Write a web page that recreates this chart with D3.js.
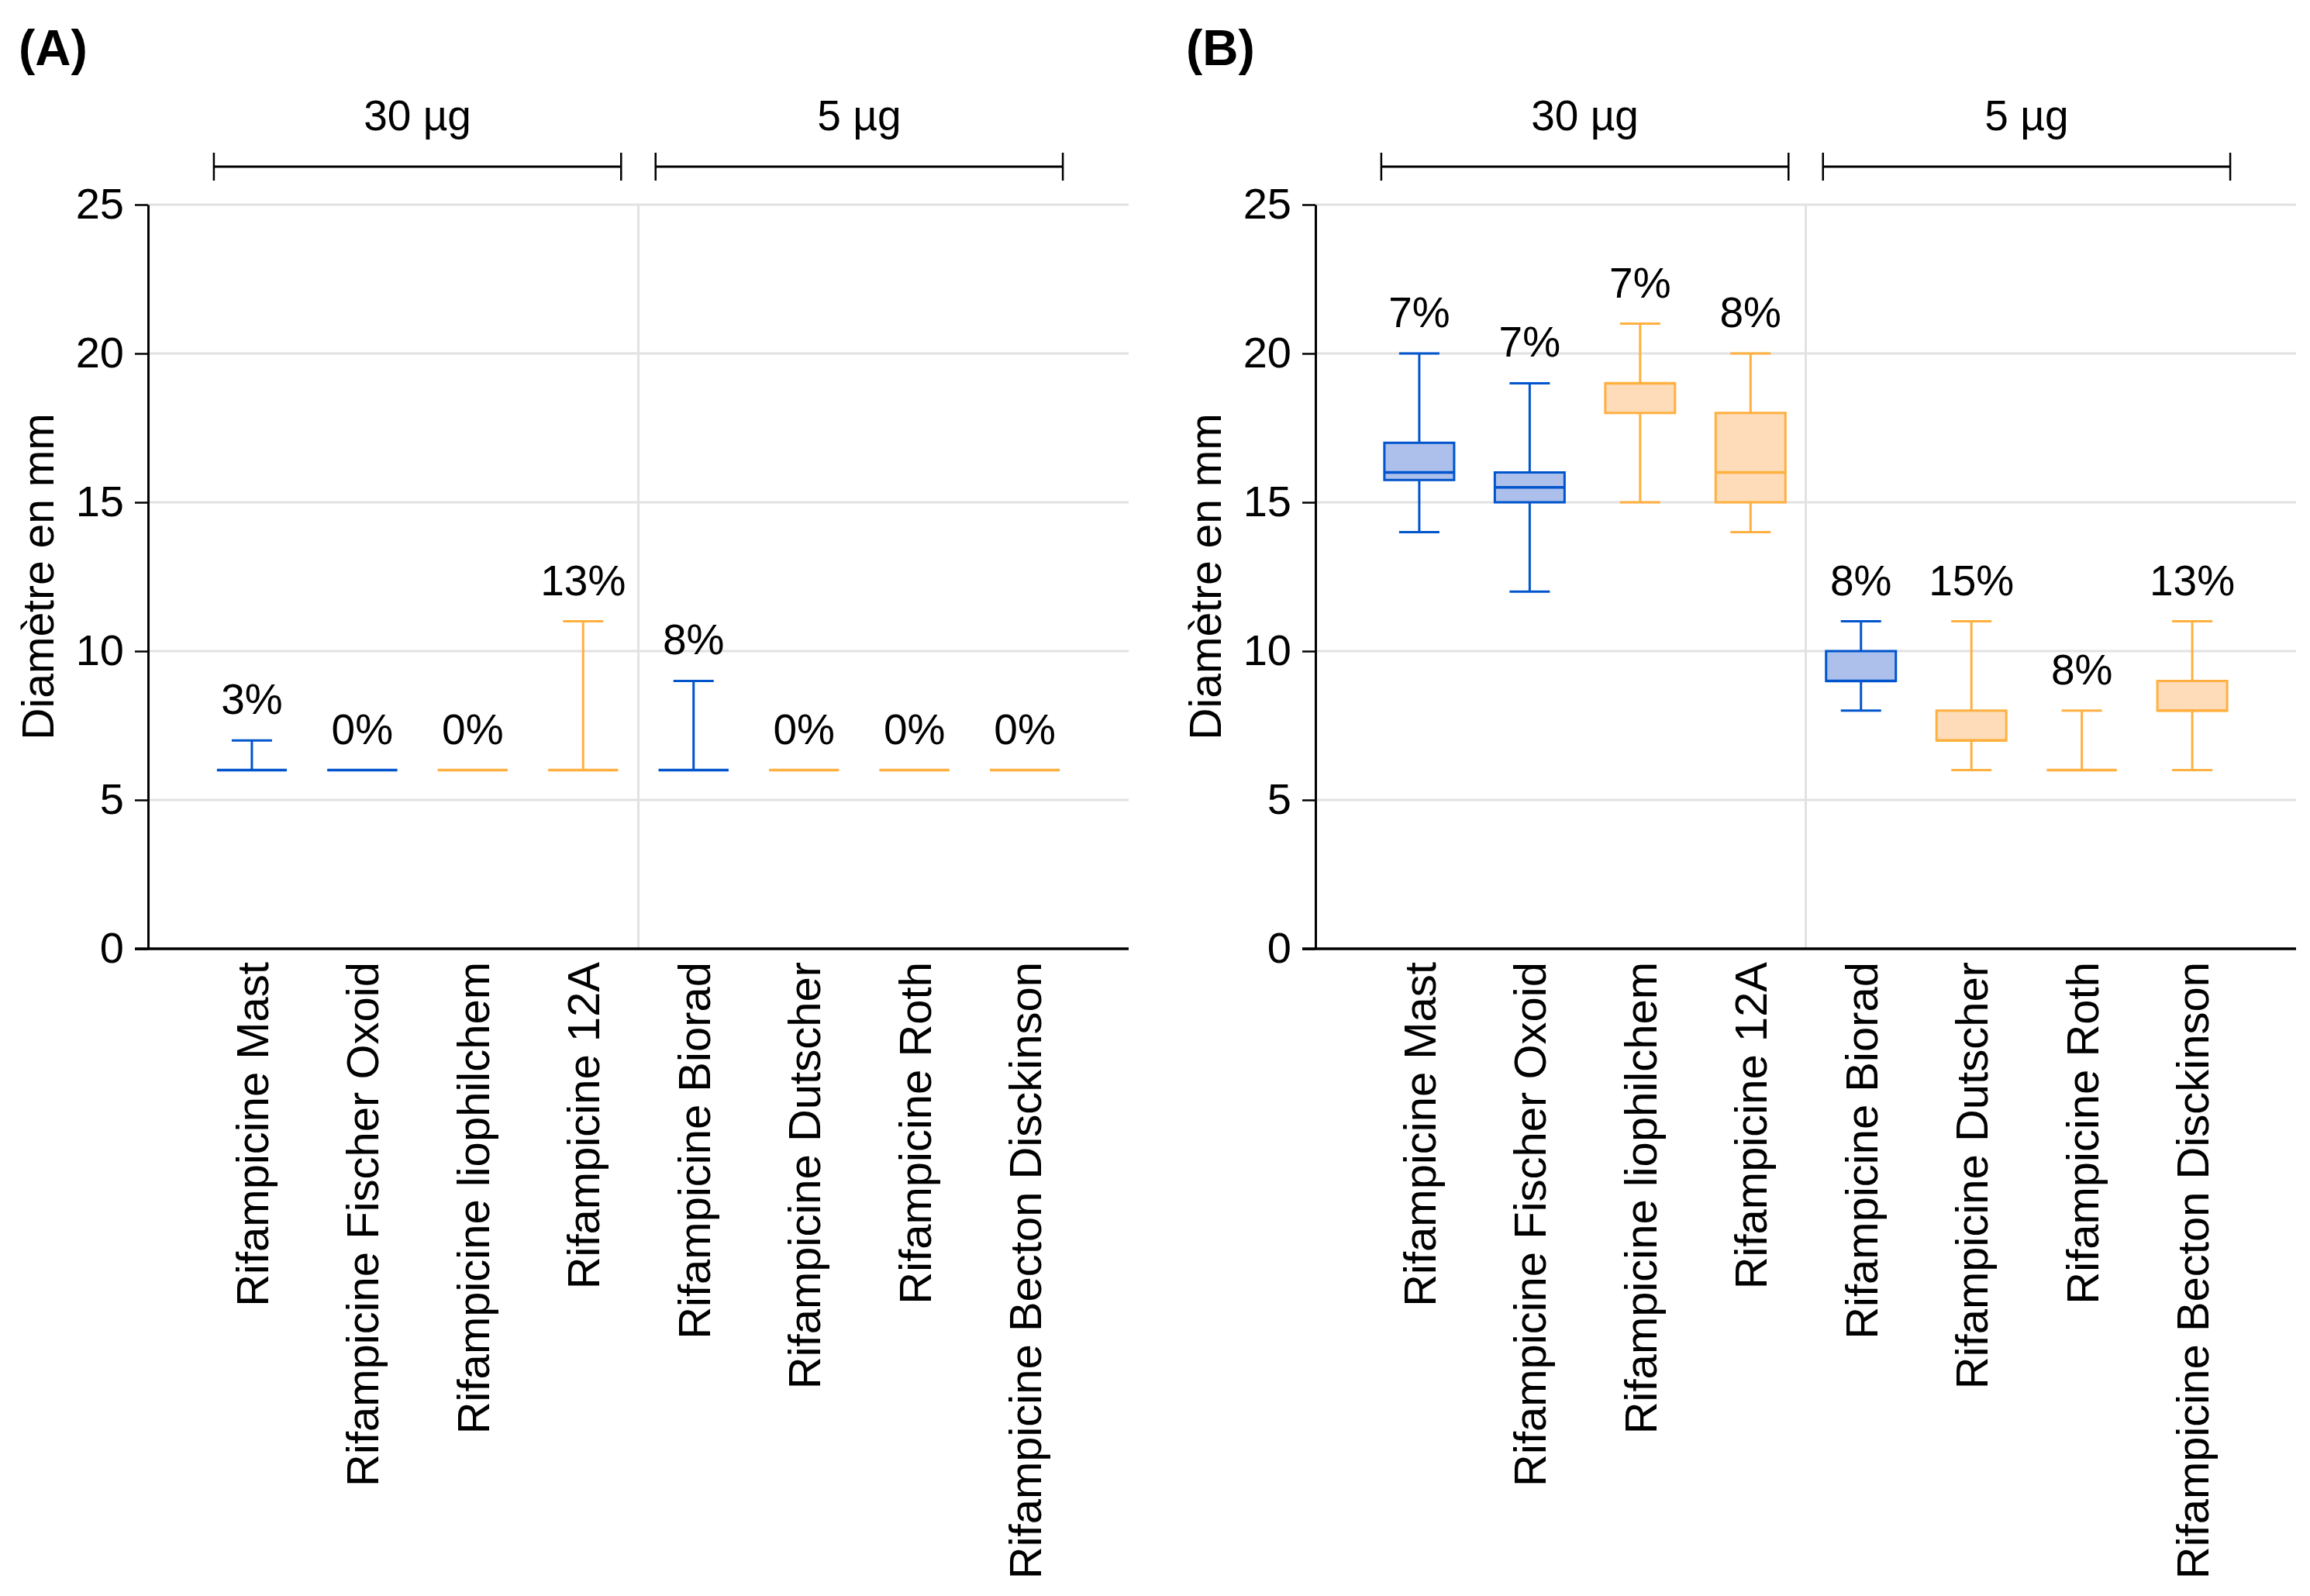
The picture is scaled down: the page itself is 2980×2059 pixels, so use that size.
<!DOCTYPE html>
<html>
<head>
<meta charset="utf-8">
<script src="https://cdn.jsdelivr.net/npm/d3@7"></script>
<style>
  body { margin: 0; background: #fff; }
  svg { display: block; font-family: "Liberation Sans", Arial, sans-serif; }
</style>
</head>
<body>
<svg id="chart" width="2980" height="2059"></svg>
<script>
// --- data ---
const categories = [
  'Rifampicine Mast', 'Rifampicine Fischer Oxoid', 'Rifampicine liophilchem', 'Rifampicine 12A',
  'Rifampicine Biorad', 'Rifampicine Dutscher', 'Rifampicine Roth', 'Rifampicine Becton Disckinson'
];
// 0 = blue series, 1 = orange series
const seriesOf = [0, 0, 1, 1, 0, 1, 1, 1];
const doses = ['30 µg', '5 µg'];
const doseCount = [4, 4];
const yTicks = [0, 5, 10, 15, 20, 25];

// panel A
const aMin    = [6, 6, 6, 6, 6, 6, 6, 6];
const aQ1     = [6, 6, 6, 6, 6, 6, 6, 6];
const aMedian = [6, 6, 6, 6, 6, 6, 6, 6];
const aQ3     = [6, 6, 6, 6, 6, 6, 6, 6];
const aMax    = [7, 6, 6, 11, 9, 6, 6, 6];
const aPct    = ['3%', '0%', '0%', '13%', '8%', '0%', '0%', '0%'];

// panel B
const bMin    = [14, 12, 15, 14, 8, 6, 6, 6];
const bQ1     = [15.75, 15, 18, 15, 9, 7, 6, 8];
const bMedian = [16, 15.5, 19, 16, 9, 7, 6, 8];
const bQ3     = [17, 16, 19, 18, 10, 8, 6, 9];
const bMax    = [20, 19, 21, 20, 11, 11, 8, 11];
const bPct    = ['7%', '7%', '7%', '8%', '8%', '15%', '8%', '13%'];

// --- styles ---
const stroke = ['#0055cc', '#ffb040'];
const fill = ['#adc0ec', '#fedcb9'];
const FS = 55;

const svg = d3.select('#chart');
const y = d3.scaleLinear().domain([0, 25]).range([1224, 264]);

function drawPanel({ x0, tag, min, q1, med, q3, max, pct }) {
  const xEnd = x0 + 1265;
  const x = d3.scalePoint().domain(categories).range([x0, xEnd]).padding(0.94);
  const g = svg.append('g');
  const boxW = 90, capW = 52;

  // panel tag
  g.append('text')
    .attr('x', x0 - 167).attr('y', 84)
    .attr('font-size', 64).attr('font-weight', 700)
    .text(tag);

  // gridlines
  g.append('g').selectAll('line').data(yTicks.filter(t => t > 0)).join('line')
    .attr('x1', x0).attr('x2', xEnd)
    .attr('y1', d => y(d)).attr('y2', d => y(d))
    .attr('stroke', '#e2e2e2').attr('stroke-width', 3);

  // divider between dose groups
  const split = (x(categories[doseCount[0] - 1]) + x(categories[doseCount[0]])) / 2;
  g.append('line')
    .attr('x1', split).attr('x2', split).attr('y1', y(25)).attr('y2', y(0))
    .attr('stroke', '#e2e2e2').attr('stroke-width', 3);

  // y axis
  const yAxis = d3.axisLeft(y).tickValues(yTicks).tickSize(17).tickSizeOuter(0).tickPadding(14);
  const ya = g.append('g').attr('transform', `translate(${x0},0)`).call(yAxis);
  ya.select('.domain').attr('stroke', '#000').attr('stroke-width', 3);
  ya.selectAll('.tick line').attr('stroke', '#000').attr('stroke-width', 2.5);
  ya.selectAll('.tick text')
    .attr('font-size', FS + 1).attr('font-family', '"Liberation Sans", Arial, sans-serif')
    .attr('fill', '#000');

  // x axis baseline
  g.append('line')
    .attr('x1', x0 - 17).attr('x2', xEnd).attr('y1', y(0)).attr('y2', y(0))
    .attr('stroke', '#000').attr('stroke-width', 3.5);

  // y title
  g.append('text')
    .attr('transform', `translate(${x0 - 143},${(y(0) + y(25)) / 2}) rotate(-90)`)
    .attr('text-anchor', 'middle').attr('dy', '0.36em')
    .attr('font-size', FS + 2)
    .text('Diamètre en mm');

  // category labels
  g.append('g').selectAll('text').data(categories).join('text')
    .attr('transform', d => `translate(${x(d)},${y(0) + 17}) rotate(-90)`)
    .attr('text-anchor', 'end').attr('dy', '0.36em')
    .attr('font-size', FS + 3)
    .text(d => d);

  // dose brackets
  let start = 0;
  doses.forEach((dose, k) => {
    const first = categories[start];
    const last = categories[start + doseCount[k] - 1];
    const bx1 = x(first) - 49, bx2 = x(last) + 49;
    const bg = g.append('g');
    bg.append('line').attr('x1', bx1).attr('x2', bx2).attr('y1', 215).attr('y2', 215)
      .attr('stroke', '#000').attr('stroke-width', 3);
    [bx1, bx2].forEach(bx => {
      bg.append('line').attr('x1', bx).attr('x2', bx).attr('y1', 197).attr('y2', 233)
        .attr('stroke', '#000').attr('stroke-width', 2.5);
    });
    bg.append('text').attr('x', (bx1 + bx2) / 2).attr('y', 168)
      .attr('text-anchor', 'middle').attr('font-size', FS)
      .text(dose);
    start += doseCount[k];
  });

  // box plots
  const rows = categories.map((c, i) => ({
    c, s: seriesOf[i], min: min[i], q1: q1[i], med: med[i], q3: q3[i], max: max[i], pct: pct[i]
  }));
  const bx = g.append('g').selectAll('g').data(rows).join('g');

  // whiskers
  bx.append('line')
    .attr('x1', d => x(d.c)).attr('x2', d => x(d.c))
    .attr('y1', d => y(d.q3)).attr('y2', d => y(d.max))
    .attr('stroke', d => stroke[d.s]).attr('stroke-width', 3);
  bx.append('line')
    .attr('x1', d => x(d.c)).attr('x2', d => x(d.c))
    .attr('y1', d => y(d.q1)).attr('y2', d => y(d.min))
    .attr('stroke', d => stroke[d.s]).attr('stroke-width', 3);
  // caps
  ['max', 'min'].forEach(k => {
    bx.append('line')
      .attr('x1', d => x(d.c) - capW / 2).attr('x2', d => x(d.c) + capW / 2)
      .attr('y1', d => y(d[k])).attr('y2', d => y(d[k]))
      .attr('stroke', d => stroke[d.s]).attr('stroke-width', 3);
  });
  // box (path so a zero-height box still strokes)
  bx.append('path')
    .attr('d', d => {
      const l = x(d.c) - boxW / 2, r = x(d.c) + boxW / 2;
      return `M${l},${y(d.q3)}H${r}V${y(d.q1)}H${l}Z`;
    })
    .attr('fill', d => fill[d.s]).attr('stroke', d => stroke[d.s]).attr('stroke-width', 3);
  // median
  bx.append('line')
    .attr('x1', d => x(d.c) - boxW / 2).attr('x2', d => x(d.c) + boxW / 2)
    .attr('y1', d => y(d.med)).attr('y2', d => y(d.med))
    .attr('stroke', d => stroke[d.s]).attr('stroke-width', 3.5);
  // percent labels
  bx.append('text')
    .attr('x', d => x(d.c)).attr('y', d => y(d.max) - 34)
    .attr('text-anchor', 'middle').attr('font-size', FS)
    .text(d => d.pct);
}

drawPanel({ x0: 191, tag: '(A)', min: aMin, q1: aQ1, med: aMedian, q3: aQ3, max: aMax, pct: aPct });
drawPanel({ x0: 1697, tag: '(B)', min: bMin, q1: bQ1, med: bMedian, q3: bQ3, max: bMax, pct: bPct });
</script>
</body>
</html>
